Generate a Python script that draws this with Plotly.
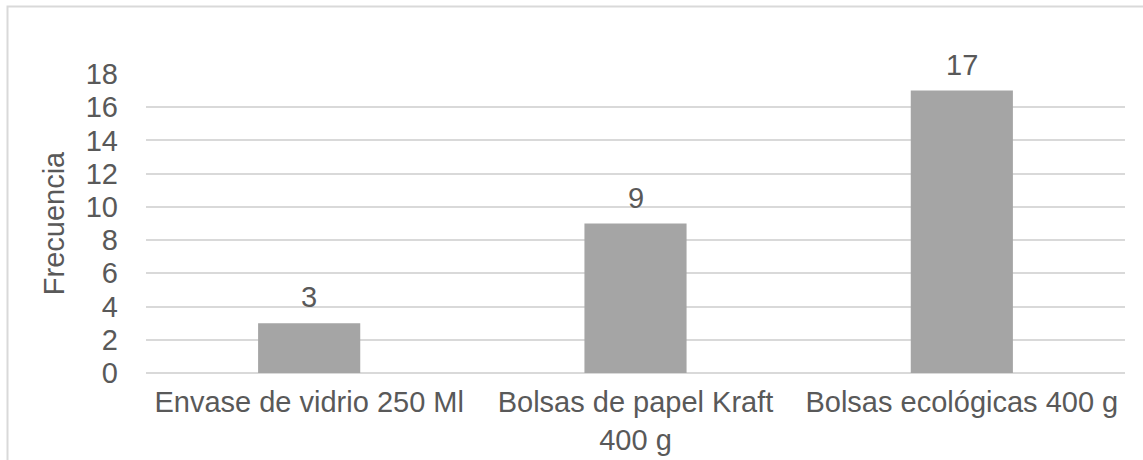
import plotly.graph_objects as go

# Frequency of preferred packaging type
categories = ["Envase de vidrio 250 Ml", "Bolsas de papel Kraft 400 g", "Bolsas ecológicas 400 g"]
tick_labels = ["Envase de vidrio 250 Ml", "Bolsas de papel Kraft<br>400 g", "Bolsas ecológicas 400 g"]
frequencies = [3, 9, 17]
y_ticks = [0, 2, 4, 6, 8, 10, 12, 14, 16, 18]

TEXT = "#595959"
GRID = "#d9d9d9"
BAR = "#a5a5a5"
FONT = "Liberation Sans, Arial, sans-serif"
FS = 29

W, H = 1143, 460
L, R, T, B = 146, 18, 74, 87

fig = go.Figure(
    go.Bar(
        x=categories,
        y=frequencies,
        marker=dict(color=BAR, line=dict(width=0)),
        hoverinfo="skip",
    )
)

# value labels above each bar
for cat, val in zip(categories, frequencies):
    fig.add_annotation(
        x=cat, y=val, text=str(val), showarrow=False,
        xref="x", yref="y", yanchor="bottom", yshift=8,
        font=dict(family=FONT, size=FS, color=TEXT),
    )

# outer chart frame
pw, ph = W - L - R, H - T - B
fig.add_shape(
    type="rect", xref="paper", yref="paper",
    x0=(7.5 - L) / pw, x1=(W + 10 - L) / pw,
    y0=(H - B - (H + 10)) / ph, y1=(H - B - 6.5) / ph,
    line=dict(color=GRID, width=2), fillcolor="rgba(0,0,0,0)", layer="below",
)

fig.update_layout(
    width=W, height=H,
    margin=dict(l=L, r=R, t=T, b=B, autoexpand=False),
    paper_bgcolor="white", plot_bgcolor="white",
    bargap=0.687,
    showlegend=False,
    font=dict(family=FONT, size=FS, color=TEXT),
)
fig.update_xaxes(
    tickvals=categories, ticktext=tick_labels,
    showgrid=False, showline=False, zeroline=False,
    ticks="", ticklabelstandoff=9,
    tickfont=dict(family=FONT, size=FS, color=TEXT),
    automargin=False,
)
fig.update_yaxes(
    range=[0, 18], tickvals=y_ticks,
    showgrid=True, gridcolor=GRID, gridwidth=2,
    zeroline=True, zerolinecolor=GRID, zerolinewidth=2,
    showline=False, ticks="", ticklabelstandoff=27,
    tickfont=dict(family=FONT, size=FS, color=TEXT),
    title=dict(text="Frecuencia", standoff=12, font=dict(family=FONT, size=FS, color=TEXT)),
    automargin=False,
)

fig.write_html("out.html")
